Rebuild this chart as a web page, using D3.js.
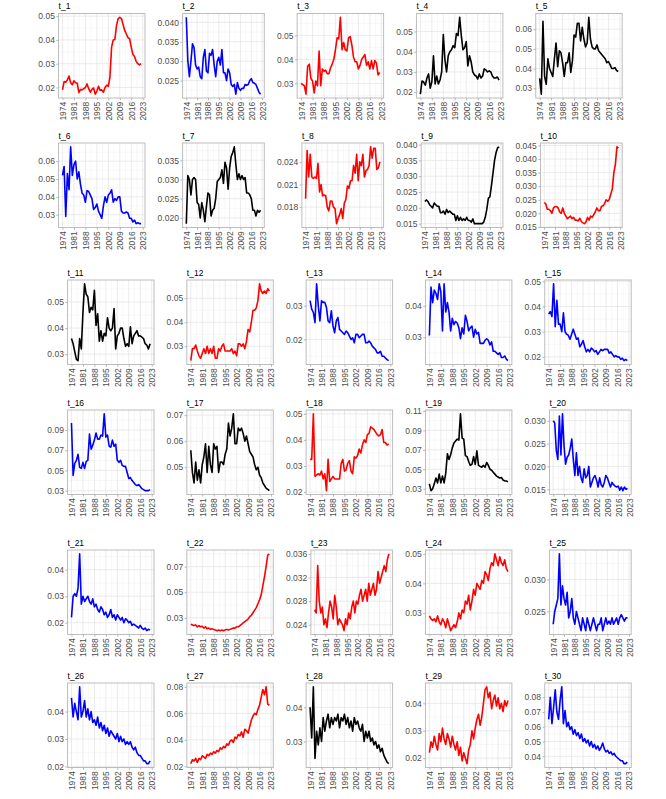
<!DOCTYPE html>
<html><head><meta charset="utf-8">
<script src="https://cdn.jsdelivr.net/npm/d3@7"></script>
<style>body{margin:0;background:#fff}</style>
</head><body>
<svg id="c" width="666" height="799"></svg>
<script>
const years = d3.range(1974, 2023);
const xTickLabels = ["1974","1981","1988","1995","2002","2009","2016","2023"];

const t_1 = [.0190,.0225,.0222,.0232,.0248,.0220,.0212,.0228,.0220,.0218,.0178,.0192,.0190,.0195,.0200,.0215,.0195,.0180,.0192,.0198,.0172,.0185,.0205,.0188,.0190,.0180,.0200,.0210,.0205,.0245,.0370,.0400,.0402,.0460,.0490,.0495,.0490,.0465,.0440,.0425,.0410,.0405,.0370,.0340,.0330,.0310,.0300,.0295,.0300];
const t_2 = [.0413,.0300,.0260,.0300,.0345,.0335,.0290,.0280,.0285,.0260,.0255,.0310,.0330,.0275,.0270,.0320,.0315,.0330,.0290,.0260,.0300,.0310,.0290,.0330,.0270,.0270,.0250,.0280,.0270,.0240,.0235,.0240,.0215,.0245,.0230,.0225,.0230,.0230,.0240,.0238,.0240,.0250,.0255,.0245,.0243,.0240,.0230,.0220,.0215];
const t_3 = [.030,.0295,.029,.0255,.037,.038,.032,.031,.026,.031,.029,.0435,.029,.036,.035,.0355,.034,.034,.0365,.038,.040,.044,.049,.0485,.0575,.044,.047,.044,.0435,.049,.0495,.046,.041,.039,.039,.036,.0375,.040,.041,.042,.0375,.039,.036,.0395,.036,.0395,.0385,.0335,.0345];
const t_4 = [.019,.0255,.025,.0235,.027,.029,.022,.025,.038,.024,.028,.024,.026,.030,.0485,.036,.030,.038,.040,.041,.043,.042,.049,.048,.057,.048,.041,.042,.045,.033,.038,.035,.030,.0285,.028,.0265,.029,.027,.028,.0315,.031,.030,.0305,.030,.028,.027,.027,.0275,.026];
const t_5 = [.035,.027,.064,.036,.032,.045,.040,.038,.036,.045,.053,.041,.049,.048,.043,.036,.043,.043,.048,.038,.044,.057,.056,.063,.063,.054,.061,.055,.051,.053,.066,.055,.051,.050,.050,.052,.049,.048,.047,.046,.045,.043,.0435,.042,.040,.040,.0405,.039,.0385];
const t_6 = [.052,.057,.029,.053,.044,.068,.052,.058,.060,.050,.054,.047,.042,.041,.037,.0435,.043,.041,.039,.033,.034,.036,.032,.030,.028,.035,.040,.037,.041,.042,.044,.037,.039,.038,.040,.040,.032,.031,.031,.0315,.031,.028,.028,.026,.027,.025,.0255,.025,.025];
const t_7 = [.0185,.031,.030,.026,.030,.0305,.030,.024,.0235,.020,.024,.022,.019,.023,.0265,.026,.0205,.022,.0225,.025,.0295,.030,.0305,.0325,.029,.0345,.033,.0275,.033,.036,.037,.0385,.034,.030,.0315,.030,.031,.030,.0305,.0265,.0265,.026,.025,.022,.022,.0205,.022,.0215,.022];
const t_8 = [.0191,.0255,.022,.025,.022,.0218,.022,.0218,.0238,.020,.021,.0195,.0196,.0195,.018,.0175,.0188,.0188,.018,.0178,.0158,.0165,.017,.0178,.0165,.0185,.019,.0208,.0205,.0215,.0215,.0235,.0225,.025,.0215,.024,.0235,.025,.022,.0228,.023,.0235,.026,.0245,.0258,.0258,.023,.0232,.024];
const t_9 = [.022,.0225,.022,.021,.0205,.020,.0215,.021,.0205,.0205,.0185,.0185,.019,.018,.0195,.0185,.019,.0185,.018,.018,.016,.0175,.016,.017,.016,.0165,.016,.017,.016,.016,.0155,.0165,.015,.015,.015,.015,.015,.015,.0155,.017,.0195,.023,.0235,.027,.031,.035,.0375,.039,.0393];
const t_10 = [.024,.0235,.0215,.0215,.021,.020,.022,.0225,.0225,.022,.0205,.020,.022,.020,.019,.018,.0185,.019,.018,.0185,.0175,.0175,.0172,.0182,.017,.0165,.0162,.0168,.0185,.0175,.019,.0185,.0195,.0205,.022,.021,.021,.0225,.0228,.0235,.025,.0245,.025,.027,.029,.035,.038,.0445,.044];
const t_11 = [.036,.034,.031,.028,.0275,.036,.032,.046,.057,.053,.052,.046,.048,.047,.0545,.041,.0455,.035,.039,.035,.038,.037,.044,.040,.039,.040,.0475,.032,.037,.038,.040,.040,.036,.033,.034,.033,.0405,.034,.037,.038,.039,.037,.037,.0365,.036,.034,.0335,.032,.034];
const t_12 = [.024,.029,.029,.0305,.028,.026,.025,.027,.029,.027,.030,.027,.029,.027,.030,.025,.025,.029,.028,.030,.031,.028,.028,.028,.028,.029,.027,.028,.026,.031,.031,.030,.031,.029,.032,.037,.036,.040,.045,.045,.046,.049,.056,.053,.052,.053,.052,.054,.053];
const t_13 = [.0315,.029,.028,.025,.0365,.030,.0255,.0315,.031,.031,.0295,.0255,.025,.0285,.024,.022,.0255,.0265,.023,.0225,.022,.0215,.0225,.022,.021,.020,.0205,.019,.0215,.0215,.0205,.021,.0215,.0215,.019,.019,.0195,.019,.018,.0175,.017,.016,.016,.0165,.015,.015,.0145,.014,.0137];
const t_14 = [.0305,.046,.041,.045,.044,.042,.047,.0445,.032,.047,.038,.041,.038,.032,.036,.034,.035,.0345,.033,.0295,.033,.031,.037,.035,.032,.033,.0335,.030,.0325,.031,.0315,.028,.028,.028,.029,.0295,.029,.0275,.0285,.0255,.0255,.025,.0245,.025,.0235,.0235,.024,.023,.0225];
const t_15 = [.037,.038,.036,.049,.032,.0425,.033,.033,.030,.0375,.030,.029,.0285,.027,.029,.031,.029,.027,.0275,.024,.025,.0265,.024,.022,.023,.022,.0235,.023,.022,.0225,.021,.022,.023,.0225,.023,.023,.023,.0215,.022,.021,.020,.0205,.020,.020,.019,.0195,.0185,.019,.0185];
const t_16 = [.097,.045,.057,.060,.066,.053,.052,.058,.052,.059,.060,.086,.071,.075,.080,.087,.081,.081,.085,.084,.106,.083,.085,.074,.073,.080,.074,.076,.060,.058,.060,.055,.054,.054,.048,.042,.043,.040,.038,.036,.035,.036,.034,.032,.031,.030,.030,.030,.031];
const t_17 = [.0565,.048,.044,.052,.045,.049,.044,.051,.054,.059,.048,.058,.051,.048,.059,.057,.058,.048,.052,.052,.051,.055,.057,.067,.062,.065,.0705,.059,.059,.065,.064,.065,.063,.060,.062,.059,.056,.055,.054,.051,.049,.050,.047,.046,.044,.043,.042,.0415,.041];
const t_18 = [.0325,.0325,.050,.026,.0265,.027,.0265,.028,.025,.027,.0205,.0325,.024,.025,.026,.025,.025,.025,.025,.031,.0325,.028,.0285,.031,.032,.028,.027,.0335,.033,.034,.0365,.035,.038,.040,.039,.042,.0425,.045,.0445,.044,.043,.042,.0415,.042,.044,.039,.039,.038,.0385];
const t_19 = [.035,.028,.030,.035,.041,.036,.045,.036,.043,.036,.046,.066,.060,.065,.072,.077,.079,.081,.080,.107,.082,.081,.064,.063,.058,.054,.055,.063,.055,.069,.054,.053,.052,.054,.052,.057,.054,.050,.049,.047,.045,.043,.042,.041,.0415,.039,.038,.038,.037];
const t_20 = [.030,.0295,.0235,.0215,.031,.0225,.0315,.0245,.0205,.022,.0225,.024,.026,.0215,.018,.023,.018,.020,.0175,.0165,.0195,.0175,.018,.020,.0155,.0165,.0175,.018,.017,.0155,.0175,.016,.0155,.0165,.018,.0175,.0165,.0155,.0165,.016,.0157,.0155,.0157,.0148,.0155,.0147,.0155,.015,.0152];
const t_21 = [.022,.030,.031,.030,.033,.046,.027,.030,.028,.029,.030,.028,.027,.029,.026,.027,.025,.024,.026,.025,.023,.024,.022,.023,.025,.022,.023,.021,.023,.022,.021,.022,.020,.0215,.021,.020,.0205,.019,.0195,.019,.0185,.018,.019,.018,.0175,.018,.017,.0175,.0172];
const t_22 = [.025,.0245,.024,.0245,.023,.024,.023,.0235,.022,.023,.0215,.022,.021,.0215,.021,.0205,.020,.0205,.020,.0205,.020,.0205,.021,.0205,.021,.0215,.022,.022,.023,.023,.024,.025,.026,.027,.028,.029,.031,.032,.034,.036,.038,.041,.044,.048,.055,.062,.070,.079,.080];
const t_23 = [.0265,.026,.034,.028,.026,.027,.024,.025,.0235,.026,.028,.027,.025,.029,.027,.024,.025,.0245,.024,.023,.025,.024,.026,.025,.027,.028,.026,.028,.0275,.029,.030,.028,.029,.030,.028,.031,.029,.030,.031,.029,.030,.033,.031,.032,.033,.034,.033,.035,.036];
const t_24 = [.029,.028,.0275,.028,.027,.029,.027,.026,.028,.027,.025,.028,.026,.024,.025,.026,.025,.027,.030,.028,.031,.030,.034,.033,.036,.031,.034,.038,.036,.040,.039,.038,.041,.040,.044,.043,.041,.045,.047,.046,.050,.048,.046,.049,.047,.046,.048,.045,.044];
const t_25 = [.023,.025,.026,.027,.034,.026,.029,.027,.026,.028,.024,.025,.027,.024,.023,.025,.024,.023,.022,.024,.023,.022,.024,.023,.022,.023,.024,.023,.022,.023,.023,.024,.022,.023,.024,.023,.0235,.023,.024,.023,.0235,.024,.023,.024,.0245,.024,.0235,.024,.024];
const t_26 = [.045,.038,.043,.040,.037,.049,.038,.040,.044,.038,.041,.037,.040,.036,.037,.035,.038,.034,.036,.033,.035,.032,.034,.031,.033,.032,.031,.030,.032,.029,.031,.029,.030,.028,.029,.028,.029,.027,.026,.027,.025,.024,.024,.023,.022,.022,.021,.021,.022];
const t_27 = [.022,.025,.024,.026,.023,.026,.025,.028,.027,.026,.029,.028,.030,.029,.031,.030,.032,.031,.034,.033,.035,.034,.037,.036,.039,.040,.038,.042,.041,.044,.043,.046,.042,.048,.047,.045,.050,.055,.058,.060,.059,.063,.066,.072,.078,.074,.080,.067,.066];
const t_28 = [.040,.031,.046,.025,.033,.029,.034,.030,.037,.033,.036,.038,.034,.037,.035,.037,.036,.038,.034,.037,.036,.038,.035,.037,.034,.036,.033,.037,.035,.036,.034,.033,.035,.030,.033,.031,.033,.030,.031,.029,.030,.028,.029,.027,.028,.026,.025,.024,.0235];
const t_29 = [.022,.026,.024,.028,.025,.023,.029,.026,.031,.027,.025,.029,.027,.024,.028,.025,.023,.026,.021,.024,.019,.022,.020,.018,.023,.025,.030,.027,.031,.034,.036,.032,.035,.040,.045,.046,.042,.044,.038,.041,.043,.039,.042,.038,.040,.037,.041,.039,.041];
const t_30 = [.065,.080,.062,.073,.085,.070,.065,.078,.087,.062,.071,.060,.063,.058,.060,.055,.058,.054,.056,.052,.055,.050,.052,.049,.051,.047,.050,.046,.048,.045,.047,.044,.046,.049,.045,.043,.044,.042,.043,.041,.042,.040,.039,.038,.037,.037,.035,.035,.036];

const seriesNames = ["t_1","t_2","t_3","t_4","t_5","t_6","t_7","t_8","t_9","t_10","t_11","t_12","t_13","t_14","t_15","t_16","t_17","t_18","t_19","t_20","t_21","t_22","t_23","t_24","t_25","t_26","t_27","t_28","t_29","t_30"];
const seriesValues = [t_1,t_2,t_3,t_4,t_5,t_6,t_7,t_8,t_9,t_10,t_11,t_12,t_13,t_14,t_15,t_16,t_17,t_18,t_19,t_20,t_21,t_22,t_23,t_24,t_25,t_26,t_27,t_28,t_29,t_30];
const seriesColors = ["red","blue","red","black","black","blue","black","red","black","red","black","red","blue","blue","blue","blue","black","red","black","blue","blue","red","red","red","blue","blue","red","black","red","blue"];
const yTickLabels = [
 ["0.02","0.03","0.04","0.05"],["0.025","0.030","0.035","0.040"],["0.03","0.04","0.05"],["0.02","0.03","0.04","0.05"],["0.03","0.04","0.05","0.06"],
 ["0.03","0.04","0.05","0.06"],["0.020","0.025","0.030","0.035"],["0.018","0.021","0.024"],["0.015","0.020","0.025","0.030","0.035","0.040"],["0.015","0.020","0.025","0.030","0.035","0.040","0.045"],
 ["0.03","0.04","0.05"],["0.03","0.04","0.05"],["0.02","0.03"],["0.03","0.04"],["0.02","0.03","0.04","0.05"],
 ["0.03","0.05","0.07","0.09"],["0.05","0.06","0.07"],["0.02","0.03","0.04","0.05"],["0.03","0.05","0.07","0.09","0.11"],["0.015","0.020","0.025","0.030"],
 ["0.02","0.03","0.04"],["0.03","0.05","0.07"],["0.024","0.028","0.032","0.036"],["0.03","0.04","0.05"],["0.025","0.030"],
 ["0.02","0.03","0.04"],["0.02","0.04","0.06","0.08"],["0.03","0.04"],["0.02","0.03","0.04"],["0.04","0.05","0.06","0.07","0.08"]
];

const svg = d3.select("#c");
const FONT = "'Liberation Sans', Arial, Helvetica, sans-serif";
const FS = 8.5;
const meas = svg.append("text").style("font-family", FONT).style("font-size", FS + "px").attr("visibility", "hidden");
function tw(s) { meas.text(s); return meas.node().getComputedTextLength(); }

const blocks = [
  { cellLeft: 38, tops: [13.5, 143] },
  { cellLeft: 47, tops: [280, 410] },
  { cellLeft: 47, tops: [550, 683] }
];
const colStep = 119.3, cellW = 107, panelH = 84.5;
const xTicks = xTickLabels.map(Number);
const xMinor = xTicks.map(t => t - 3.5).concat([2026.5]);

seriesValues.forEach((vals, i) => {
  const row = Math.floor(i / 5), col = i % 5;
  const blk = blocks[Math.floor(row / 2)];
  const top = blk.tops[row % 2];
  const cl = blk.cellLeft + col * colStep;
  const labels = yTickLabels[i];
  const maxW = d3.max(labels, tw);
  const left = cl + maxW + 4, right = cl + cellW, bottom = top + panelH;

  const x = d3.scaleLinear().domain([1974 - 2.4, 2022 + 2.4]).range([left, right]);
  const ext = d3.extent(vals), pad = (ext[1] - ext[0]) * 0.05;
  const y = d3.scaleLinear().domain([ext[0] - pad, ext[1] + pad]).range([bottom, top]);
  const yT = labels.map(Number);
  const step = yT.length > 1 ? yT[1] - yT[0] : 0.01;
  const yMinor = [yT[0] - step / 2].concat(yT.map(v => v + step / 2));
  const inY = v => v >= y.domain()[0] && v <= y.domain()[1];
  const inX = v => v >= x.domain()[0] && v <= x.domain()[1];

  const g = svg.append("g");
  g.selectAll(".mnx").data(xMinor.filter(inX)).join("line")
    .attr("x1", d => x(d)).attr("x2", d => x(d)).attr("y1", top).attr("y2", bottom)
    .attr("stroke", "#f0f0f0").attr("stroke-width", 0.5);
  g.selectAll(".mny").data(yMinor.filter(inY)).join("line")
    .attr("x1", left).attr("x2", right).attr("y1", d => y(d)).attr("y2", d => y(d))
    .attr("stroke", "#f0f0f0").attr("stroke-width", 0.5);
  g.selectAll(".mjx").data(xTicks.filter(inX)).join("line")
    .attr("x1", d => x(d)).attr("x2", d => x(d)).attr("y1", top).attr("y2", bottom)
    .attr("stroke", "#e3e3e3").attr("stroke-width", 0.7);
  g.selectAll(".mjy").data(yT.filter(inY)).join("line")
    .attr("x1", left).attr("x2", right).attr("y1", d => y(d)).attr("y2", d => y(d))
    .attr("stroke", "#e3e3e3").attr("stroke-width", 0.7);

  g.append("path").datum(vals)
    .attr("fill", "none").attr("stroke", seriesColors[i]).attr("stroke-width", 1.6)
    .attr("stroke-linejoin", "round")
    .attr("d", d3.line().x((d, k) => x(years[k])).y(d => y(d)));

  g.append("rect").attr("x", left).attr("y", top).attr("width", right - left).attr("height", bottom - top)
    .attr("fill", "none").attr("stroke", "#bdbdbd").attr("stroke-width", 1);

  const ya = g.append("g").attr("transform", `translate(${left},0)`)
    .call(d3.axisLeft(y).tickValues(yT.filter(inY)).tickSize(2.2).tickPadding(1.5)
      .tickFormat(d => labels[yT.indexOf(d)]));
  ya.select(".domain").remove();
  ya.selectAll(".tick line").attr("stroke", "#b3b3b3");
  ya.selectAll("text").style("font-family", FONT).style("font-size", FS + "px").attr("fill", "#4d4d4d");

  const xa = g.append("g").attr("transform", `translate(0,${bottom})`)
    .call(d3.axisBottom(x).tickValues(xTicks).tickSize(2.2).tickFormat((d, k) => xTickLabels[k]));
  xa.select(".domain").remove();
  xa.selectAll(".tick line").attr("stroke", "#b3b3b3");
  xa.selectAll("text").style("font-family", FONT).style("font-size", FS + "px").attr("fill", "#4d4d4d")
    .attr("transform", "rotate(-90)").attr("text-anchor", "end")
    .attr("x", -3.7).attr("y", 0).attr("dy", "0.35em");

  g.append("text").attr("x", left).attr("y", top - 4.5).text(seriesNames[i])
    .style("font-family", FONT).style("font-size", FS + "px").attr("fill", "#000");
});
meas.remove();
</script>
</body></html>
